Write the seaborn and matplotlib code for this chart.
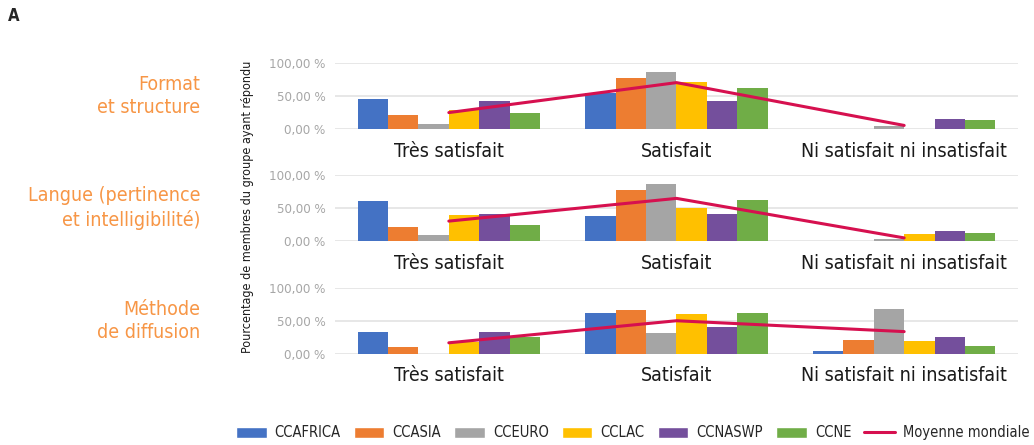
import numpy as np
import pandas as pd
import matplotlib
matplotlib.use("Agg")
import matplotlib.pyplot as plt
import seaborn as sns
from matplotlib.patches import Patch
from matplotlib.lines import Line2D

sns.set_style("white")
plt.rcParams['font.family'] = ['DejaVu Sans']
plt.rcParams['font.stretch'] = 'condensed'

# categories / groups
categories = ['Très satisfait', 'Satisfait', 'Ni satisfait ni insatisfait']
groups = ['CCAFRICA', 'CCASIA', 'CCEURO', 'CCLAC', 'CCNASWP', 'CCNE']
panels = ['Format\net structure', 'Langue (pertinence\net intelligibilité)', 'Méthode\nde diffusion']

# values in %, one list per group, order = categories
format_vals = {
    'CCAFRICA': [45, 55, 0],
    'CCASIA': [22, 78, 0],
    'CCEURO': [7, 87, 4.6],
    'CCLAC': [29, 71, 0],
    'CCNASWP': [42, 42, 16],
    'CCNE': [25, 63, 13],
}
langue_vals = {
    'CCAFRICA': [61, 38, 0],
    'CCASIA': [21, 78, 0],
    'CCEURO': [9, 87, 3],
    'CCLAC': [40, 50, 11],
    'CCNASWP': [41, 41, 15],
    'CCNE': [24.5, 63, 12],
}
methode_vals = {
    'CCAFRICA': [33, 62, 5],
    'CCASIA': [10, 67, 22],
    'CCEURO': [0, 32, 68],
    'CCLAC': [18, 61, 19],
    'CCNASWP': [33, 41, 25.5],
    'CCNE': [25.5, 62, 12],
}
moyenne_format = [25, 70.5, 5.5]
moyenne_langue = [30.5, 65, 5]
moyenne_methode = [17, 50.5, 34]

ytick_vals = [0, 50, 100]
ytick_labels = ['0,00 %', '50,00 %', '100,00 %']

colors = ['#4472C4', '#ED7D31', '#A5A5A5', '#FFC000', '#744F9C', '#70AD47']
line_color = '#D6104F'
title_color = '#F79646'

fig = plt.figure(figsize=(10.34, 4.45), dpi=100)

bottoms = [0.710, 0.458, 0.2045]
all_vals = [format_vals, langue_vals, methode_vals]
all_moy = [moyenne_format, moyenne_langue, moyenne_methode]

for i in range(3):
    ax = fig.add_axes([0.324, bottoms[i], 0.6605, 0.148])
    rows = []
    for g in groups:
        for c, v in zip(categories, all_vals[i][g]):
            rows.append({'cat': c, 'group': g, 'val': v})
    df = pd.DataFrame(rows)
    sns.barplot(data=df, x='cat', y='val', hue='group', order=categories,
                hue_order=groups, palette=colors, width=0.8, ax=ax,
                legend=False, saturation=1, linewidth=0)
    ax.plot(np.arange(len(categories)), all_moy[i], color=line_color, lw=2.2, zorder=5)
    ax.set_ylim(0, 100)
    ax.set_xlim(-0.5, 2.5)
    ax.set_yticks(ytick_vals)
    ax.set_yticklabels(ytick_labels)
    ax.yaxis.grid(True, color='#E3E3E3', lw=1.2)
    ax.set_axisbelow(True)
    for s in ax.spines.values():
        s.set_visible(False)
    ax.tick_params(axis='y', length=0, pad=7, labelsize=9.5, labelcolor='#A6A6A6')
    ax.tick_params(axis='x', length=0, pad=9, labelsize=14, labelcolor='#1A1A1A')
    ax.set_xlabel('')
    ax.set_ylabel('')
    fig.text(0.194, bottoms[i] + 0.074, panels[i], ha='right', va='center',
             fontsize=14, color=title_color, linespacing=1.3)

fig.text(0.239, 0.535, 'Pourcentage de membres du groupe ayant répondu', rotation=90,
         ha='center', va='center', fontsize=9, color='#1A1A1A')
fig.text(0.008, 0.965, 'A', fontsize=12, fontweight='bold', ha='left', va='center')

handles = [Patch(facecolor=c, label=g) for c, g in zip(colors, groups)]
handles.append(Line2D([0], [0], color=line_color, lw=2.2, label='Moyenne mondiale'))
fig.legend(handles=handles, loc='center', bbox_to_anchor=(0.612, 0.027), ncol=7,
           frameon=False, fontsize=10.5, handlelength=2.1, handleheight=0.85,
           columnspacing=0.9, handletextpad=0.55)

fig.savefig('out.png', dpi=100)
